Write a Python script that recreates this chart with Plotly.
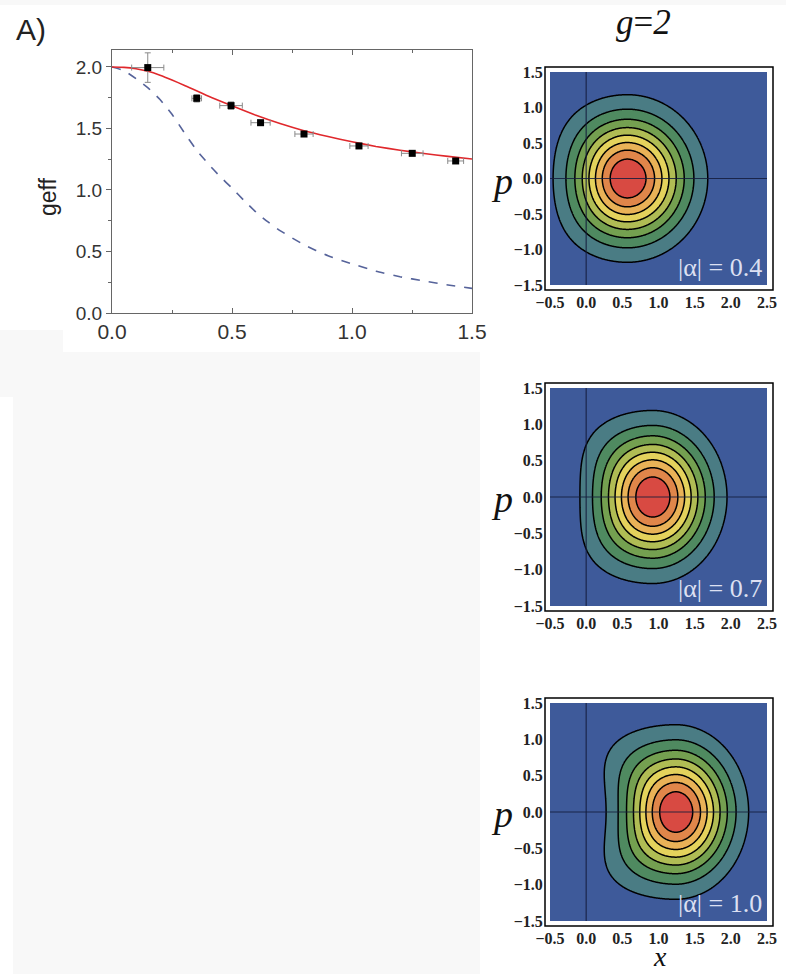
import numpy as np
import plotly.graph_objects as go

W, H = 786, 974

# ---------------- data: panel A ----------------
pts_x = [0.149, 0.353, 0.496, 0.619, 0.80, 1.029, 1.251, 1.432]
pts_y = [1.995, 1.745, 1.686, 1.547, 1.455, 1.358, 1.298, 1.236]
pts_xerr = [0.067, 0.02, 0.047, 0.04, 0.038, 0.038, 0.045, 0.033]
pts_yerr = [0.12, 0.03, 0.03, 0.02, 0.02, 0.02, 0.02, 0.02]

red_x = [0.0, 0.05, 0.1, 0.15, 0.2, 0.25, 0.3, 0.4, 0.5, 0.6, 0.7, 0.8, 0.9, 1.0, 1.1, 1.2, 1.3, 1.4, 1.5]
red_y = [2.0, 1.997, 1.986, 1.965, 1.933, 1.894, 1.852, 1.764, 1.684, 1.607, 1.540, 1.482, 1.435, 1.392, 1.354, 1.323, 1.297, 1.273, 1.252]
blue_x = [0.0, 0.05, 0.1, 0.15, 0.2, 0.25, 0.3, 0.35, 0.4, 0.45, 0.5, 0.55, 0.6, 0.65, 0.7, 0.8, 0.9, 1.0, 1.1, 1.2, 1.3, 1.4, 1.5]
blue_y = [2.0, 1.97, 1.905, 1.83, 1.735, 1.615, 1.47, 1.33, 1.215, 1.11, 1.015, 0.915, 0.82, 0.74, 0.67, 0.555, 0.465, 0.40, 0.34, 0.295, 0.26, 0.228, 0.20]

x_ticks_A = [0.0, 0.5, 1.0, 1.5]
y_ticks_A = [0.0, 0.5, 1.0, 1.5, 2.0]

# ---------------- data: Wigner panels ----------------
alpha_labels = ["0.4", "0.7", "1.0"]
centers = [0.57, 0.92, 1.24]
sig_x_left = [0.49, 0.48, 0.46]
sig_x_right = [0.53, 0.49, 0.48]
sig_p = [0.563, 0.568, 0.573]
flat_beta = [0.3, 0.6, 1.1]
levels = [1/9, 8/9, 1/9]   # start, end, size
band_colors = ["#3e5a9a", "#4a7c84", "#4f8a60", "#74a050", "#b0bc54",
               "#e4d25c", "#e9b257", "#e0864a", "#d84a42"]
wx_ticks = [-0.5, 0.0, 0.5, 1.0, 1.5, 2.0, 2.5]
wp_ticks = [-1.5, -1.0, -0.5, 0.0, 0.5, 1.0, 1.5]


def px_x(px):
    return px / W


def px_y(py):
    return 1 - py / H


def fmt(v):
    s = f"{abs(v):.1f}"
    return ("\u2212" + s) if v < 0 else s


fig = go.Figure()

# ---- panel A traces ----
fig.add_trace(go.Scatter(x=blue_x, y=blue_y, mode="lines",
                         line=dict(color="#56639a", width=1.6, dash="dash", shape="spline", smoothing=0.5),
                         xaxis="x", yaxis="y", showlegend=False))
fig.add_trace(go.Scatter(x=red_x, y=red_y, mode="lines",
                         line=dict(color="#e0282c", width=1.6, shape="spline", smoothing=0.5),
                         xaxis="x", yaxis="y", showlegend=False))
fig.add_trace(go.Scatter(x=pts_x, y=pts_y, mode="markers",
                         marker=dict(symbol="square", size=7, color="black"),
                         error_x=dict(type="data", array=pts_xerr, color="#8a8a8a", thickness=1, width=3),
                         error_y=dict(type="data", array=pts_yerr, color="#8a8a8a", thickness=1, width=3),
                         xaxis="x", yaxis="y", showlegend=False))

# ---- Wigner contour panels ----
gx = np.linspace(-0.5, 2.5, 301)
gp = np.linspace(-1.5, 1.5, 301)
X, P = np.meshgrid(gx, gp)
nb = len(band_colors)
cscale = [[i / (nb - 1), c] for i, c in enumerate(band_colors)]

panel_y = [(72, 285), (388, 606), (703, 921)]
for i in range(3):
    dx = X - centers[i]
    sx = np.where(dx < 0, sig_x_left[i], sig_x_right[i])
    s = np.where(dx < 0, 1.0 / (1.0 + flat_beta[i] * P ** 2), 1.0)
    Z = np.exp(-(dx ** 2) / (2 * sx ** 2) * s - P ** 2 / (2 * sig_p[i] ** 2))
    fig.add_trace(go.Contour(x=gx, y=gp, z=Z, xaxis=f"x{i+2}", yaxis=f"y{i+2}",
                             contours=dict(start=levels[0], end=levels[1], size=levels[2], coloring="fill"),
                             colorscale=cscale, showscale=False,
                             line=dict(color="black", width=1.5), hoverinfo="skip"))

layout = dict(width=W, height=H, margin=dict(l=0, r=0, t=0, b=0, autoexpand=False),
              paper_bgcolor="white", plot_bgcolor="white", showlegend=False)

axis_font = dict(family="Liberation Sans, Arial", size=19, color="#333")
layout["xaxis"] = dict(domain=[px_x(112), px_x(472)], range=[0, 1.5], anchor="y", automargin=False,
                       tickvals=x_ticks_A, ticktext=[f"{v:.1f}" for v in x_ticks_A],
                       ticks="inside", ticklen=5, tickcolor="#666", showline=True, linecolor="#666",
                       linewidth=1.2, mirror="ticks", showgrid=False, zeroline=False,
                       tickfont=dict(family="Liberation Sans, Arial", size=21, color="#333"),
                       minor=dict(dtick=0.25, ticks="inside", ticklen=3, tickcolor="#666", showgrid=False))
layout["yaxis"] = dict(domain=[px_y(313), px_y(50)], range=[0, 2.138], anchor="x", automargin=False,
                       tickvals=y_ticks_A, ticktext=[f"{v:.1f}" for v in y_ticks_A],
                       ticks="outside", ticklen=5, tickcolor="#666", showline=True, linecolor="#666",
                       linewidth=1.2, mirror=True, showgrid=False, zeroline=False, tickfont=axis_font,
                       minor=dict(dtick=0.25, ticks="outside", ticklen=3, tickcolor="#666", showgrid=False))
layout["yaxis5"] = dict(domain=[px_y(313), px_y(50)], range=[0, 2.138], anchor="x", overlaying="y",
                        side="right", tickvals=y_ticks_A, showticklabels=False, automargin=False,
                        ticks="inside", ticklen=5, tickcolor="#777", showline=False, showgrid=False, zeroline=False,
                        minor=dict(dtick=0.25, ticks="inside", ticklen=3, tickcolor="#777", showgrid=False))

wfont = dict(family="Liberation Serif, Times New Roman", size=16, color="#222", weight="bold")
shapes = []
annotations = []
for i in range(3):
    y0, y1 = panel_y[i]
    layout[f"xaxis{i+2}"] = dict(domain=[px_x(550), px_x(767)], range=[-0.5, 2.5], anchor=f"y{i+2}",
                                 automargin=False,
                                 tickvals=wx_ticks, ticktext=[fmt(v) for v in wx_ticks],
                                 ticks="outside", ticklen=3, tickcolor="rgba(0,0,0,0)",
                                 showline=False, showgrid=False, zeroline=False, tickfont=wfont)
    layout[f"yaxis{i+2}"] = dict(domain=[px_y(y1), px_y(y0)], range=[-1.5, 1.5], anchor=f"x{i+2}",
                                 automargin=False,
                                 tickvals=wp_ticks, ticktext=[fmt(v) for v in wp_ticks],
                                 ticks="outside", ticklen=3, tickcolor="rgba(0,0,0,0)",
                                 showline=False, showgrid=False, zeroline=False, tickfont=wfont)
    # frame
    shapes.append(dict(type="rect", xref="paper", yref="paper", x0=px_x(545), x1=px_x(773),
                       y0=px_y(y1 + 5), y1=px_y(y0 - 5), line=dict(color="black", width=1.5),
                       fillcolor="white", layer="below"))
    # axes through origin
    shapes.append(dict(type="line", xref=f"x{i+2}", yref=f"y{i+2} domain", x0=0, x1=0, y0=0, y1=1,
                       line=dict(color="rgba(20,28,60,0.85)", width=1.2), layer="above"))
    shapes.append(dict(type="line", xref=f"x{i+2} domain", yref=f"y{i+2}", x0=0, x1=1, y0=0, y1=0,
                       line=dict(color="rgba(20,28,60,0.85)", width=1.2), layer="above"))
    annotations.append(dict(text=f"|\u03b1| = {alpha_labels[i]}", xref="paper", yref="paper",
                            x=px_x(764), y=px_y(y1 - 18), xanchor="right", yanchor="middle", showarrow=False,
                            font=dict(family="Liberation Serif, Times New Roman", size=26, color="#dde0f2")))
    annotations.append(dict(text="<i>p</i>", xref="paper", yref="paper", x=px_x(502), y=px_y((y0 + y1) / 2 + 2),
                            xanchor="center", yanchor="middle", showarrow=False,
                            font=dict(family="Liberation Serif, Times New Roman", size=38, color="#111")))

annotations.append(dict(text="<i>x</i>", xref="paper", yref="paper", x=px_x(660), y=px_y(974),
                        xanchor="center", yanchor="bottom", showarrow=False,
                        font=dict(family="Liberation Serif, Times New Roman", size=28, color="#111")))
annotations.append(dict(text="<i>g</i>=<i>2</i>", xref="paper", yref="paper", x=px_x(643), y=px_y(1),
                        xanchor="center", yanchor="top", showarrow=False,
                        font=dict(family="Liberation Serif, Times New Roman", size=35, color="#111")))
annotations.append(dict(text="A)", xref="paper", yref="paper", x=px_x(14), y=px_y(30),
                        xanchor="left", yanchor="middle", showarrow=False,
                        font=dict(family="Liberation Sans, Arial", size=30, color="#222")))
annotations.append(dict(text="geff", xref="paper", yref="paper", x=px_x(48), y=px_y(197),
                        xanchor="center", yanchor="middle", showarrow=False, textangle=-90,
                        font=dict(family="Liberation Sans, Arial", size=23, color="#222")))

# faint grey page patches
for (a, b, c, d) in [(0, 0, 786, 5), (0, 330, 63, 397), (13, 352, 480, 974)]:
    shapes.append(dict(type="rect", xref="paper", yref="paper", x0=px_x(a), x1=px_x(c),
                       y0=px_y(d), y1=px_y(b), line=dict(width=0), fillcolor="#f8f8f8", layer="below"))

layout["shapes"] = shapes
layout["annotations"] = annotations
fig.update_layout(**layout)
fig.write_html("out.html")
